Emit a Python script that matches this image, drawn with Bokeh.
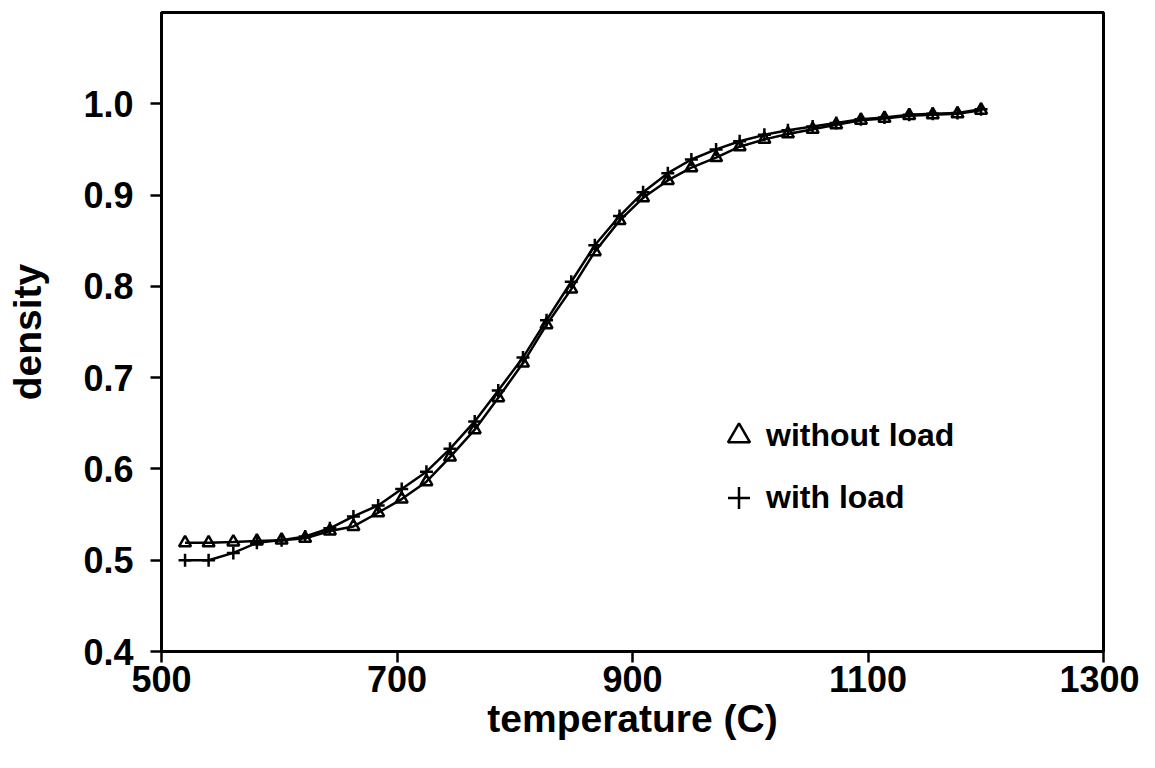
from bokeh.plotting import figure
from bokeh.models import (ColumnDataSource, FixedTicker, PrintfTickFormatter,
                          Legend, LegendItem, Range1d)
from bokeh.embed import file_html
from bokeh.resources import INLINE

# ---- data ----
temperature = [520, 540, 561, 581, 602, 622, 643, 663, 684, 704, 725, 745,
               766, 786, 807, 827, 848, 868, 889, 909, 930, 950, 971, 991,
               1012, 1032, 1053, 1073, 1094, 1114, 1135, 1155, 1176, 1196]
density_without_load = [0.519, 0.519, 0.520, 0.521, 0.522, 0.524, 0.532, 0.537,
                        0.552, 0.567, 0.586, 0.613, 0.643, 0.678, 0.716, 0.758,
                        0.797, 0.838, 0.872, 0.897, 0.916, 0.930, 0.941, 0.953,
                        0.961, 0.967, 0.972, 0.977, 0.982, 0.984, 0.987, 0.988,
                        0.989, 0.993]
density_with_load = [0.500, 0.500, 0.508, 0.519, 0.522, 0.526, 0.535, 0.548,
                     0.560, 0.578, 0.597, 0.622, 0.652, 0.686, 0.722, 0.763,
                     0.805, 0.845, 0.877, 0.903, 0.924, 0.939, 0.950, 0.959,
                     0.966, 0.971, 0.975, 0.979, 0.983, 0.985, 0.988, 0.989,
                     0.990, 0.994]
x_ticks = [500, 700, 900, 1100, 1300]
y_ticks = [0.4, 0.5, 0.6, 0.7, 0.8, 0.9, 1.0]
series_labels = ["without load", "with load"]

FONT = "Liberation Sans"

src = ColumnDataSource(dict(t=temperature, a=density_without_load,
                            b=density_with_load))

p = figure(width=1139, height=752, output_backend="svg", toolbar_location=None,
           x_range=Range1d(500, 1300), y_range=Range1d(0.4, 1.1),
           min_border_left=161, min_border_right=36, min_border_top=12,
           min_border_bottom=101)
p.grid.visible = False
p.outline_line_color = "black"
p.outline_line_width = 3
p.background_fill_color = "white"
p.border_fill_color = "white"

for ax in (p.xaxis[0], p.yaxis[0]):
    ax.axis_line_width = 3
    ax.axis_line_color = "black"
    ax.major_tick_line_width = 2.5
    ax.major_tick_line_color = "black"
    ax.major_tick_in = 0
    ax.major_tick_out = 11
    ax.minor_tick_in = 0
    ax.minor_tick_out = 0
    ax.major_label_text_font = FONT
    ax.major_label_text_font_size = "36px"
    ax.major_label_text_font_style = "bold"
    ax.major_label_text_color = "black"
    ax.axis_label_text_font = FONT
    ax.axis_label_text_font_size = "39px"
    ax.axis_label_text_font_style = "bold"
    ax.axis_label_text_color = "black"

p.xaxis.ticker = FixedTicker(ticks=x_ticks)
p.yaxis.ticker = FixedTicker(ticks=y_ticks)
p.yaxis.formatter = PrintfTickFormatter(format="%.1f")
p.xaxis.axis_label = "temperature (C)"
p.yaxis.axis_label = "density"
p.xaxis.major_label_standoff = 3
p.yaxis.major_label_standoff = 17
p.xaxis.axis_label_standoff = 2
p.yaxis.axis_label_standoff = 31

# data lines and markers
p.line("t", "a", source=src, line_color="black", line_width=2.5)
p.line("t", "b", source=src, line_color="black", line_width=2.5)
sc_a = p.scatter("t", "a", source=src, marker="triangle", size=12,
                 line_color="black", line_width=2.5, fill_alpha=0)
sc_b = p.scatter("t", "b", source=src, marker="cross", size=13,
                 line_color="black", line_width=2.5)

legend = Legend(items=[LegendItem(label=series_labels[0], renderers=[sc_a]),
                       LegendItem(label=series_labels[1], renderers=[sc_b])],
                location=(550, 126), glyph_width=55, glyph_height=55,
                spacing=7, padding=0, margin=0, label_standoff=0,
                border_line_color=None, background_fill_alpha=0,
                label_text_font=FONT, label_text_font_size="32px",
                label_text_font_style="bold", label_text_color="black")
p.add_layout(legend, "center")

open("out.html", "w").write(file_html(p, INLINE))
